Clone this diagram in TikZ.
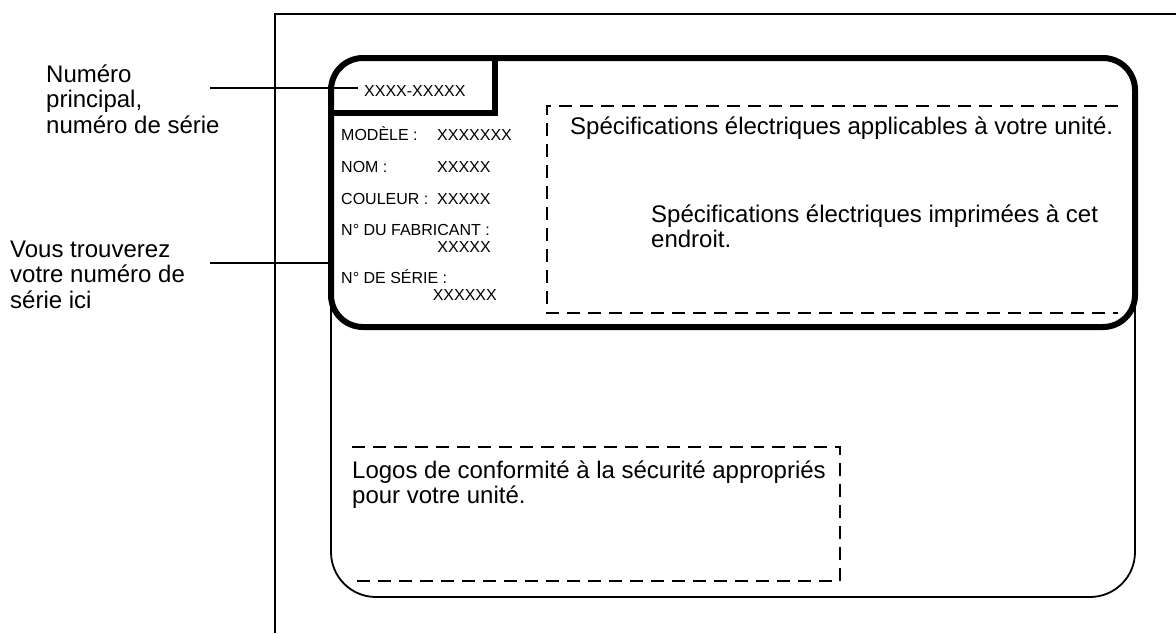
\documentclass[tikz,border=0pt]{standalone}
\usepackage{fontspec}
\setmainfont{Liberation Sans}
\begin{document}
\begin{tikzpicture}[x=1pt,y=-1pt,
  bigtxt/.style={inner sep=0pt,anchor=base west,align=left,font=\fontsize{24}{25.5}\selectfont},
  smalltxt/.style={inner sep=0pt,anchor=base west,font=\fontsize{16}{18}\selectfont},
  rim/.style={line width=6pt},
  thinline/.style={line width=1.8pt},
  dashline/.style={line width=1.5pt,dash pattern=on 13pt off 8pt}]
\useasboundingbox (0,0) rectangle (1176,633);
\draw[thinline] (275,633) -- (275,14) -- (1176,14);
\draw[thinline,rounded corners=45pt] (331,300) -- (331,597) -- (1135,597) -- (1135,300);
\node[rim,draw,fill=white,rounded corners=32pt,minimum width=804pt,minimum height=269pt,inner sep=0pt,outer sep=0pt] (label) at (733,192.5) {};
\draw[rim] (495,58) -- (495,113) -- (331,113);
\draw[dashline] (1118,106) -- (547,106) -- (547,313) -- (1118,313);
\draw[dashline] (352,447) -- (840,447) -- (840,581) -- (352,581);
\node[bigtxt] (note1) at (46,133) {Numéro\\principal,\\numéro de série};
\node[bigtxt] (note2) at (10,308) {Vous trouverez\\votre numéro de\\série ici};
\node[smalltxt] (mainno) at (364,96) {XXXX-XXXXX};
\node[smalltxt] (modk) at (341,140) {MODÈLE :};
\node[smalltxt] (modv) at (437,140) {XXXXXXX};
\node[smalltxt] (nomk) at (341,172) {NOM :};
\node[smalltxt] (nomv) at (437,172) {XXXXX};
\node[smalltxt] (coulk) at (341,204) {COULEUR :};
\node[smalltxt] (coulv) at (437,204) {XXXXX};
\node[smalltxt] (fabk) at (341,235) {N° DU FABRICANT :};
\node[smalltxt,anchor=base east] (fabv) at (491,252) {XXXXX};
\node[smalltxt] (serk) at (341,283) {N° DE SÉRIE :};
\node[smalltxt,anchor=base east] (serv) at (497,300) {XXXXXX};
\node[bigtxt] (spec) at (570,134) {Spécifications électriques applicables à votre unité.};
\node[bigtxt] (specprint) at (651,247.5) {Spécifications électriques imprimées à cet\\endroit.};
\node[bigtxt] (logos) at (352,503.5) {Logos de conformité à la sécurité appropriés\\pour votre unité.};
\coordinate (lead1) at (210,88);
\coordinate (lead2) at (210,263);
\draw[thinline,shorten >=6pt] (lead1) -- (lead1 -| mainno.west);
\draw[thinline] (lead2) -- (lead2 -| label.west);
\end{tikzpicture}
\end{document}
